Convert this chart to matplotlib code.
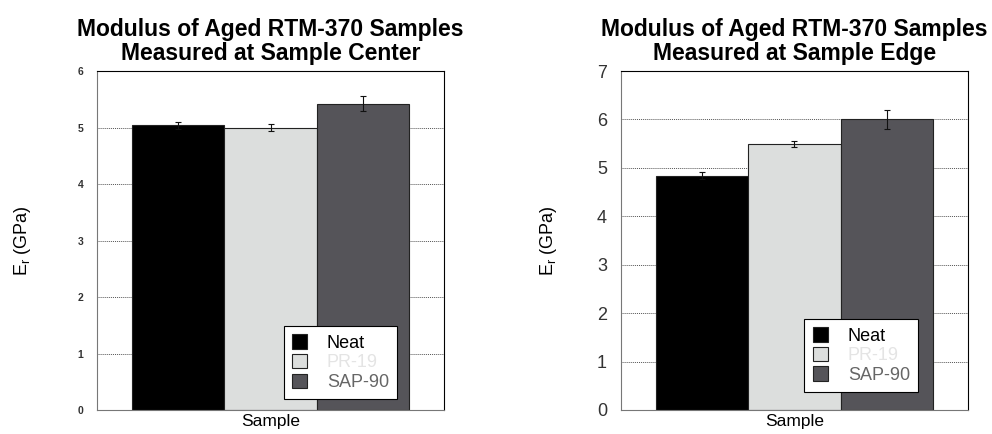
import numpy as np
import matplotlib.pyplot as plt

plt.rcParams['font.family'] = ['Liberation Sans', 'DejaVu Sans']

# data
samples = ["Neat", "PR-19", "SAP-90"]
center_vals = [5.04, 5.00, 5.42]
center_err = [0.06, 0.07, 0.13]
edge_vals = [4.84, 5.49, 6.00]
edge_err = [0.07, 0.06, 0.20]

bar_colors = ["#000000", "#dcdedd", "#555459"]
legend_text_colors = ["#000000", "#e4e4e4", "#666666"]

fig = plt.figure(figsize=(9.92, 4.34), dpi=100)


def draw_panel(rect, vals, errs, ymax, title, tick_size, ylab_pad, leg_anchor):
    ax = fig.add_axes(rect)
    x = np.arange(len(samples))
    for i in range(len(samples)):
        ax.bar(x[i], vals[i], width=1.0, color=bar_colors[i], edgecolor="#222222",
               linewidth=0.8, label=samples[i], zorder=2)
    ax.errorbar(x, vals, yerr=errs, fmt="none", ecolor="#111111", elinewidth=0.8,
                capsize=2.2, capthick=0.8, zorder=3)
    ax.set_xlim(-0.88, 2.88)
    ax.set_ylim(0, ymax)
    ax.set_yticks(range(0, ymax + 1))
    ax.set_xticks([])
    ax.yaxis.grid(True, linestyle=(0, (1, 1)), color="#555555", linewidth=0.7, zorder=0)
    ax.set_axisbelow(True)
    weight = "bold" if tick_size < 10 else "normal"
    ax.tick_params(axis="y", labelsize=tick_size, labelcolor="#333333", length=0, pad=10)
    for lab in ax.get_yticklabels():
        lab.set_fontweight(weight)
    for s in ["top", "right"]:
        ax.spines[s].set_color("#000000")
    for s in ["left", "bottom"]:
        ax.spines[s].set_color("#777777")
    ax.set_title(title, fontsize=16.5, fontweight="bold", pad=8, linespacing=1.05)
    ax.set_xlabel("Sample", fontsize=12.5, labelpad=3)
    ax.set_ylabel(r"E$_{\mathregular{r}}$ (GPa)", fontsize=13, labelpad=ylab_pad)
    leg = ax.legend(loc="lower right", bbox_to_anchor=leg_anchor, fontsize=13,
                    frameon=True, fancybox=False, edgecolor="#000000", framealpha=1,
                    handlelength=0.85, handleheight=0.85, handletextpad=1.1,
                    borderpad=0.45, labelspacing=0.12, borderaxespad=0)
    leg.get_frame().set_linewidth(0.8)
    for t, c in zip(leg.get_texts(), legend_text_colors):
        t.set_color(c)
    return ax


draw_panel([0.0978, 0.0553, 0.3498, 0.781], center_vals, center_err, 6,
           "Modulus of Aged RTM-370 Samples\nMeasured at Sample Center", 7.5, 32, (0.865, 0.032))
draw_panel([0.626, 0.0553, 0.3498, 0.781], edge_vals, edge_err, 7,
           "Modulus of Aged RTM-370 Samples\nMeasured at Sample Edge", 13, 27, (0.856, 0.053))

fig.savefig("out.png", dpi=100)
